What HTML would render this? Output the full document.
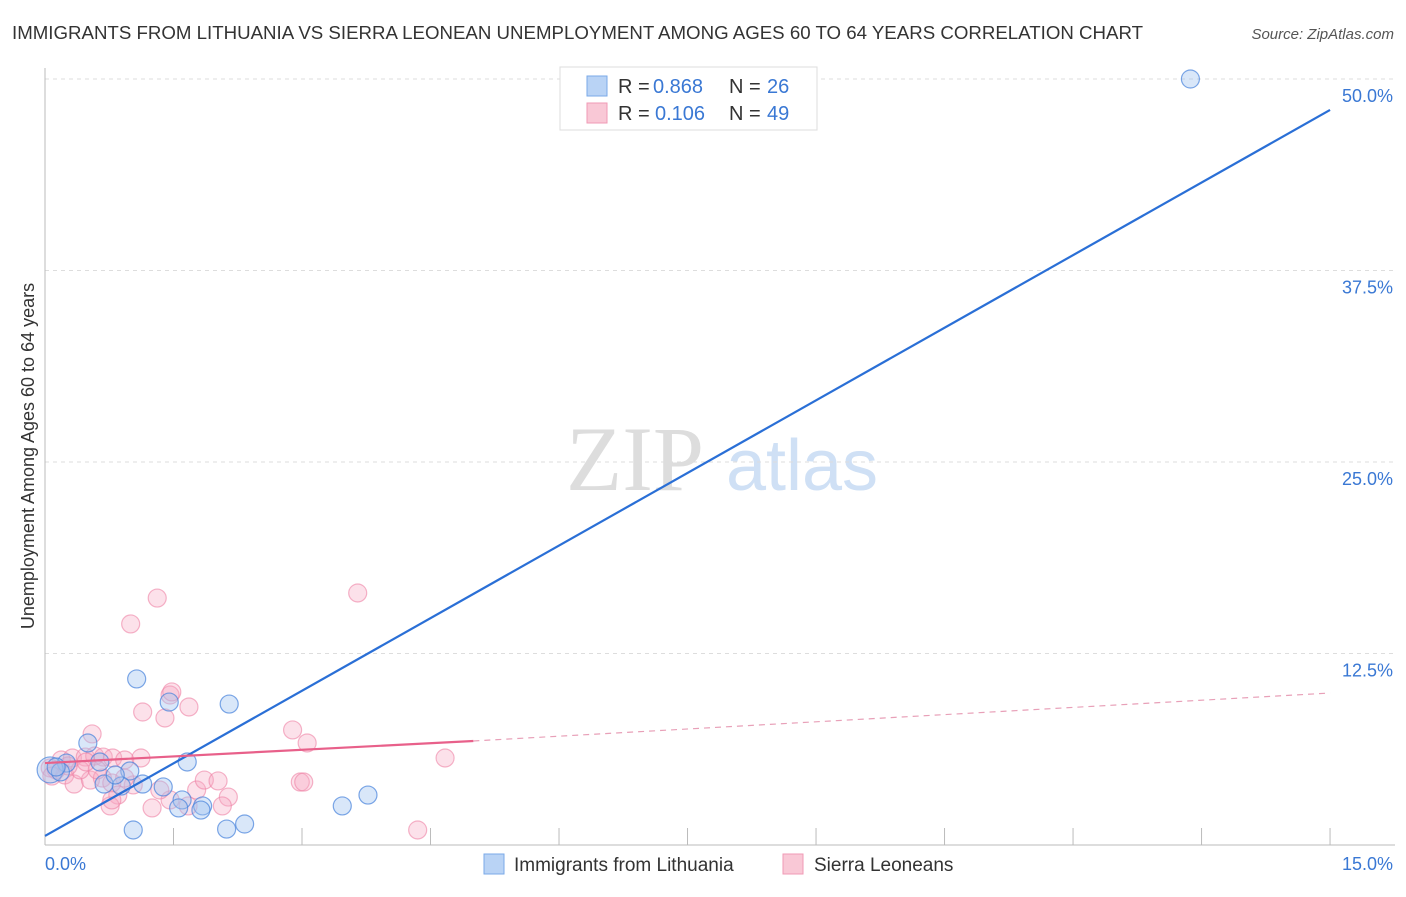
<!DOCTYPE html>
<html><head><meta charset="utf-8"><style>
body{margin:0;background:#fff;font-family:"Liberation Sans",sans-serif}
</style></head><body>
<svg id="c" width="1406" height="892" font-family="Liberation Sans, sans-serif">
<text x="12" y="39" font-size="18" fill="#333" textLength="1131" lengthAdjust="spacingAndGlyphs">IMMIGRANTS FROM LITHUANIA VS SIERRA LEONEAN UNEMPLOYMENT AMONG AGES 60 TO 64 YEARS CORRELATION CHART</text>
<text x="1394" y="39" font-size="15" fill="#555" font-style="italic" text-anchor="end">Source: ZipAtlas.com</text>
<text x="34" y="456" font-size="18" fill="#333" text-anchor="middle" transform="rotate(-90 34 456)">Unemployment Among Ages 60 to 64 years</text>
<g><text x="635" y="490" font-size="92" fill="#ddd" style="font-family:'Liberation Serif',serif" text-anchor="middle">ZIP</text><text x="802" y="490" font-size="72" fill="#cfe0f5" text-anchor="middle">atlas</text></g>
<g id="grid"></g><g id="marks"></g>
<g>
<rect x="560" y="67" width="257" height="63" fill="#fff" stroke="#ddd"/>
<rect x="587" y="76" width="20" height="20" fill="#b9d3f5" stroke="#7aa9e8"/>
<rect x="587" y="103" width="20" height="20" fill="#f9c8d6" stroke="#f09ab5"/>
<text x="618" y="93" font-size="20" fill="#333">R =</text><text x="653" y="93" font-size="20" fill="#3a78d4">0.868</text>
<text x="729" y="93" font-size="20" fill="#333">N =</text><text x="767" y="93" font-size="20" fill="#3a78d4">26</text>
<text x="618" y="120" font-size="20" fill="#333">R =</text><text x="655" y="120" font-size="20" fill="#3a78d4">0.106</text>
<text x="729" y="120" font-size="20" fill="#333">N =</text><text x="767" y="120" font-size="20" fill="#3a78d4">49</text>
</g>
<g>
<rect x="484" y="854" width="20" height="20" fill="#b9d3f5" stroke="#7aa9e8"/>
<text x="514" y="871" font-size="19" fill="#333">Immigrants from Lithuania</text>
<rect x="783" y="854" width="20" height="20" fill="#f9c8d6" stroke="#f09ab5"/>
<text x="814" y="871" font-size="19" fill="#333">Sierra Leoneans</text>
</g>
</svg>
<script>
const yTicks=[12.5,25,37.5,50];
const yTickLabels=["12.5%","25.0%","37.5%","50.0%"];
const xTickVals=[1.5,3,4.5,6,7.5,9,10.5,12,13.5,15];
const blueX=[13.37,1.07,1.45,2.15,0.50,1.66,0.99,0.89,0.69,1.14,1.38,1.60,1.56,1.84,1.82,1.03,2.12,2.33,3.47,3.77,0.25,0.06,0.18,0.82,0.64,0.13];
const blueY=[50.0,10.84,9.33,9.20,6.66,5.42,4.83,3.85,3.98,3.98,3.79,2.94,2.42,2.55,2.28,0.98,1.04,1.37,2.55,3.26,5.35,4.90,4.77,4.57,5.42,5.09];
const pinkX=[1.31,1.00,3.65,1.46,1.48,1.14,1.40,1.68,0.55,2.89,3.06,4.67,4.35,0.19,0.32,0.47,0.58,0.68,0.79,0.93,1.12,0.13,0.23,0.34,0.53,0.67,0.78,0.85,0.76,0.78,1.03,1.46,1.67,1.77,1.86,2.02,2.14,2.07,2.98,3.02,0.06,0.41,0.27,0.08,0.93,1.34,1.25,0.61,0.48];
const pinkY=[16.12,14.43,16.45,9.79,9.99,8.68,8.29,9.01,7.25,7.51,6.66,5.68,0.98,5.55,5.68,5.74,5.81,5.74,5.68,5.55,5.68,4.90,4.57,3.98,4.24,4.37,4.05,3.26,2.55,2.94,3.92,2.94,2.55,3.59,4.24,4.18,3.13,2.55,4.11,4.11,5.03,4.90,5.16,4.50,4.37,3.59,2.42,4.90,5.42];
const blueLine=[[0,0.59],[15,47.98]];
const pinkSolid=[[0,5.35],[5.0,6.79]];
const pinkDash=[[5.0,6.79],[15,9.92]];
const X=v=>45+v*85.67, Y=v=>845-v*15.32;
const NS="http://www.w3.org/2000/svg";
function mk(t,a,p){const e=document.createElementNS(NS,t);for(const k in a)e.setAttribute(k,a[k]);p.appendChild(e);return e;}
const g=document.getElementById('grid'), m=document.getElementById('marks');
yTicks.forEach((v,i)=>{
 const l=mk('line',{x1:45,x2:1395,y1:Y(v),y2:Y(v),stroke:'#ddd','stroke-dasharray':'4 4'},g);
 
 
 const t=mk('text',{x:1393,y:Y(v)+23,'font-size':18,fill:'#3a78d4','text-anchor':'end'},g);t.textContent=yTickLabels[i];
 
 
});
const ax=mk('line',{x1:45,x2:45,y1:68,y2:845,stroke:'#bbb'},g);


const bx=mk('line',{x1:45,x2:1395,y1:845,y2:845,stroke:'#bbb'},g);


xTickVals.forEach(v=>{const l=mk('line',{x1:X(v),x2:X(v),y1:828,y2:845,stroke:'#bbb'},g);
 
 });
[["0.0%",45,'start'],["15.0%",1393,'end']].forEach(a=>{const t=mk('text',{x:a[1],y:870,'font-size':18,fill:'#3a78d4','text-anchor':a[2]},g);t.textContent=a[0];
 
 });
pinkX.forEach((v,i)=>{const c=mk('circle',{cx:X(v),cy:Y(pinkY[i]),r:9,fill:'rgba(246,170,195,0.35)',stroke:'rgba(238,130,165,0.6)','stroke-width':1.2},m);
 
 });
blueX.forEach((v,i)=>{const c=mk('circle',{cx:X(v),cy:Y(blueY[i]),r:i==21?13:9,fill:'rgba(160,195,240,0.4)',stroke:'rgba(70,130,220,0.7)','stroke-width':1.2},m);
 
 });
const bl=mk('line',{x1:X(blueLine[0][0]),y1:Y(blueLine[0][1]),x2:X(blueLine[1][0]),y2:Y(blueLine[1][1]),stroke:'#2a6fd6','stroke-width':2.2},m);


const ps=mk('line',{x1:X(pinkSolid[0][0]),y1:Y(pinkSolid[0][1]),x2:X(pinkSolid[1][0]),y2:Y(pinkSolid[1][1]),stroke:'#e8608a','stroke-width':2.2},m);


const pd=mk('line',{x1:X(pinkDash[0][0]),y1:Y(pinkDash[0][1]),x2:X(pinkDash[1][0]),y2:Y(pinkDash[1][1]),stroke:'#e8a0b8','stroke-width':1.2,'stroke-dasharray':'6 5'},m);


</script>
</body></html>
